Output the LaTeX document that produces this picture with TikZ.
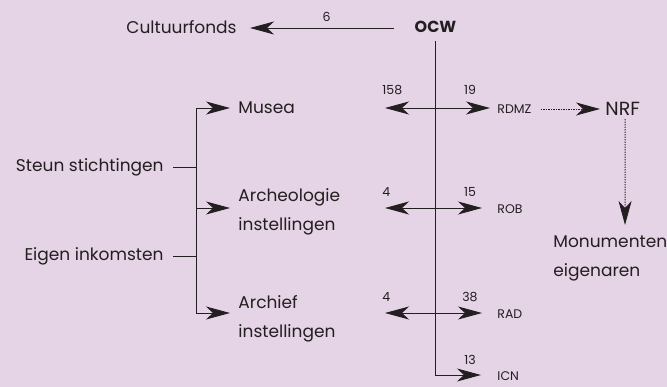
\documentclass[tikz,border=0pt]{standalone}
\usepackage{fontspec}
\setmainfont{Poppins}
\usetikzlibrary{arrows.meta}
\definecolor{lila}{RGB}{229,211,230}
\definecolor{ink}{RGB}{35,31,32}

\begin{document}
\begin{tikzpicture}[x=1pt,y=-1pt,line width=0.9pt,draw=ink,
    >={Stealth[length=24pt,width=13pt,inset=7pt]},
    every node/.style={text=ink,inner sep=0pt},
    lbl/.style={font=\fontsize{17}{29}\selectfont},
    num/.style={font=\fontsize{12.5}{14}\selectfont},
    dots/.style={dash pattern=on 1.3pt off 1.2pt}]
    \fill[lila] (0,0) rectangle (667,387);
    \useasboundingbox (0,0) rectangle (667,387);
    \node[font=\fontsize{16}{18}\selectfont\bfseries] (ocw) at (435.5,27) {OCW};
    \node[lbl] (cult) at (181.5,27) {Cultuurfonds};
    \coordinate (top) at (435,41);
    \coordinate (bot) at (435,375);
    \draw (top) -- (bot);
    \draw[->,shorten >=13pt] ([xshift=-20pt]ocw.west |- 0,28) -- (cult.east |- 0,28)
        node[num,pos=0.43,above=6pt] {6};
    % rechts
    \node[num,anchor=west] (rdmz) at (497,109) {RDMZ};
    \node[num,anchor=west] (rob) at (497,209) {ROB};
    \node[num,anchor=west] (rad) at (497,314) {RAD};
    \node[num,anchor=west] (icn) at (497,376.5) {ICN};
    \coordinate (l1) at (385,108);
    \coordinate (l2) at (385,208);
    \coordinate (l3) at (385,313);
    \draw[<->,shorten >=7pt] (l1) -- (l1 -| rdmz.west);
    \draw[<->,shorten >=15pt] (l2) -- (l2 -| rob.west);
    \draw[<->,shorten >=15pt] (l3) -- (l3 -| rad.west);
    \draw[->,shorten >=16pt] (bot) -- (bot -| icn.west);
    \node[num,anchor=base west] at (382,95) {158};
    \node[num,anchor=base] at (470,95) {19};
    \node[num,anchor=base west] at (382,197) {4};
    \node[num,anchor=base] at (470,197) {15};
    \node[num,anchor=base west] at (382,302) {4};
    \node[num,anchor=base] at (470,302) {38};
    \node[num,anchor=base] at (470,365) {13};
    \node[font=\fontsize{19}{22}\selectfont,anchor=west] (nrf) at (605,109) {NRF};
    \node[lbl,anchor=north west,align=left] (mon) at (553,235) {Monumenten\\eigenaren};
    \draw[->,dots,shorten >=5pt] ([xshift=9pt]rdmz.east) -- (nrf.west);
    \draw[->,dots,shorten >=10pt] ([xshift=2.5pt,yshift=-3pt]nrf.south) -- (mon.north -| 625,0);
    % links
    \node[lbl,anchor=west] (musea) at (238,108) {Musea};
    \node[lbl,anchor=west,align=left] (arch) at (238,212) {Archeologie\\instellingen};
    \node[lbl,anchor=west,align=left] (archief) at (238,319) {Archief\\instellingen};
    \node[lbl,anchor=east] (steun) at (164,167) {Steun stichtingen};
    \node[lbl,anchor=east] (eigen) at (164,256) {Eigen inkomsten};
    \coordinate (b1) at (196,108);
    \coordinate (b2) at (196,208);
    \coordinate (b3) at (196,313);
    \draw (b1) -- (b3);
    \draw[->,shorten >=8pt] (b1) -- (musea.west);
    \draw[->,shorten >=8pt] (b2) -- (b2 -| arch.west);
    \draw[->,shorten >=8pt] (b3) -- (b3 -| archief.west);
    \draw ([xshift=9pt]steun.east) -- (steun.east -| b1);
    \draw ([xshift=9pt]eigen.east) -- (eigen.east -| b1);
\end{tikzpicture}
\end{document}
